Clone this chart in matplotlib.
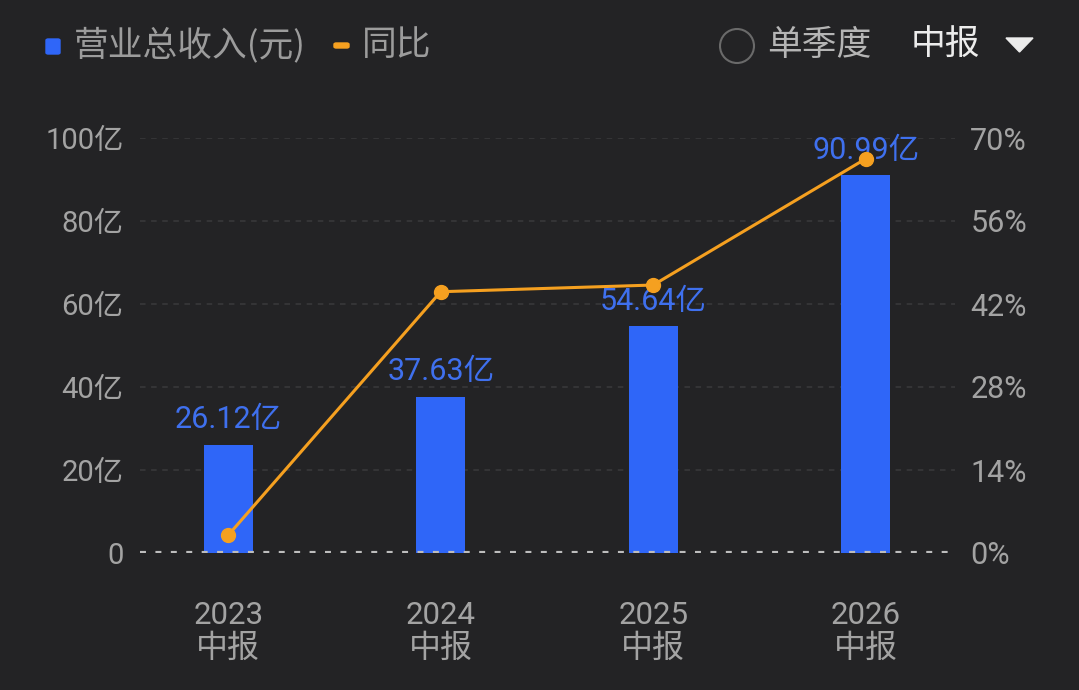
import matplotlib
matplotlib.use("Agg")
import matplotlib.pyplot as plt
from matplotlib.patches import Ellipse, Polygon, FancyBboxPatch

plt.rcParams['font.family'] = ['Roboto', 'Noto Sans CJK SC', 'DejaVu Sans']
plt.rcParams['lines.scale_dashes'] = False

# data
years = ['2023', '2024', '2025', '2026']
period_suffix = '中报'
revenue = [26.12, 37.63, 54.64, 90.99]          # 亿元
revenue_labels = ['26.12亿', '37.63亿', '54.64亿', '90.99亿']
yoy = [3.0, 44.07, 45.2, 66.5]                  # %
left_ticks = [0, 20, 40, 60, 80, 100]
left_labels = ['0', '20亿', '40亿', '60亿', '80亿', '100亿']
right_ticks = [0, 14, 28, 42, 56, 70]
right_labels = ['0%', '14%', '28%', '42%', '56%', '70%']

bg = '#232325'
blue = '#2f66f8'
blue_txt = '#3f70ee'
orange = '#f5a020'
gray = '#a3a3a3'
cjk = ['Noto Sans CJK SC', 'DejaVu Sans']

fig = plt.figure(figsize=(10.79, 6.9), dpi=100, facecolor=bg)
ax = fig.add_axes([140 / 1079, 1 - 553 / 690, 815 / 1079, 415 / 690])
ax.set_facecolor(bg)

x = list(range(len(years)))
ax.bar(x, revenue, width=0.23, color=blue, zorder=2)
for xi, v, lab in zip(x, revenue, revenue_labels):
    ax.annotate(lab, (xi, v), xytext=(0, 18), textcoords='offset points',
                ha='center', va='center', color=blue_txt, fontsize=22, zorder=3,
                annotation_clip=False)

ax.set_xlim(-0.415, 3.42)
ax.set_ylim(0, 100)
ax.set_yticks(left_ticks)
ax.set_yticklabels(left_labels)
ax.set_xticks(x)
ax.set_xticklabels([])
ax.tick_params(axis='y', length=0, pad=12, labelsize=21, labelcolor=gray)
ax.tick_params(axis='x', length=0)
# two-line category labels: year over 中报
for xi, yr in zip(x, years):
    ax.text(xi, -0.150, yr, transform=ax.get_xaxis_transform(),
            ha='center', va='center', fontsize=22.5, color=gray)
    ax.text(xi, -0.229, period_suffix, transform=ax.get_xaxis_transform(),
            ha='center', va='center', fontsize=23, color=gray, family=cjk)
for s in ax.spines.values():
    s.set_visible(False)

# faint grid lines
for t in left_ticks[1:]:
    ax.axhline(t, color='#343436', lw=1.5, linestyle=(0, (4, 4)), zorder=1)
# zero line drawn over bars
ax.axhline(0, color='#bdbdbd', lw=3, linestyle=(0, (4.3, 6.8)), zorder=4)

ax2 = ax.twinx()
ax2.set_ylim(0, 70)
ax2.set_yticks(right_ticks)
ax2.set_yticklabels(right_labels)
ax2.tick_params(axis='y', length=0, pad=11, labelsize=22, labelcolor=gray)
for s in ax2.spines.values():
    s.set_visible(False)
ax2.plot(x, yoy, color=orange, lw=2.2, marker='o', markersize=10, clip_on=False, zorder=5)

# legend / header
fig.patches.append(FancyBboxPatch((46 / 1079, 1 - 54 / 690), 14 / 1079, 15 / 690,
                                  boxstyle='round,pad=0,rounding_size=0.002',
                                  transform=fig.transFigure, color=blue))
fig.text(74 / 1079, 1 - 45 / 690, '营业总收入(元)', color='#9c9c9c', fontsize=25,
         va='center', ha='left', family=cjk)
fig.patches.append(FancyBboxPatch((334 / 1079, 1 - 48 / 690), 15 / 1079, 5 / 690,
                                  boxstyle='round,pad=0,rounding_size=0.002',
                                  transform=fig.transFigure, color=orange))
fig.text(362 / 1079, 1 - 45 / 690, '同比', color='#9c9c9c', fontsize=25,
         va='center', ha='left', family=cjk)

fig.patches.append(Ellipse((737 / 1079, 1 - 46 / 690), 34 / 1079, 34 / 690,
                           transform=fig.transFigure, fill=False,
                           edgecolor='#6a6a6a', lw=1.5))
fig.text(767 / 1079, 1 - 45 / 690, '单季度', color='#b5b5b5', fontsize=25,
         va='center', ha='left', family=cjk)
fig.text(911 / 1079, 1 - 45 / 690, '中报', color='#ececec', fontsize=25,
         va='center', ha='left', family=cjk)
fig.patches.append(Polygon([(1006 / 1079, 1 - 38 / 690), (1033 / 1079, 1 - 38 / 690),
                            (1019.5 / 1079, 1 - 52 / 690)], closed=True,
                           transform=fig.transFigure, color='#ececec'))

fig.savefig('out.png', dpi=100, facecolor=bg)
